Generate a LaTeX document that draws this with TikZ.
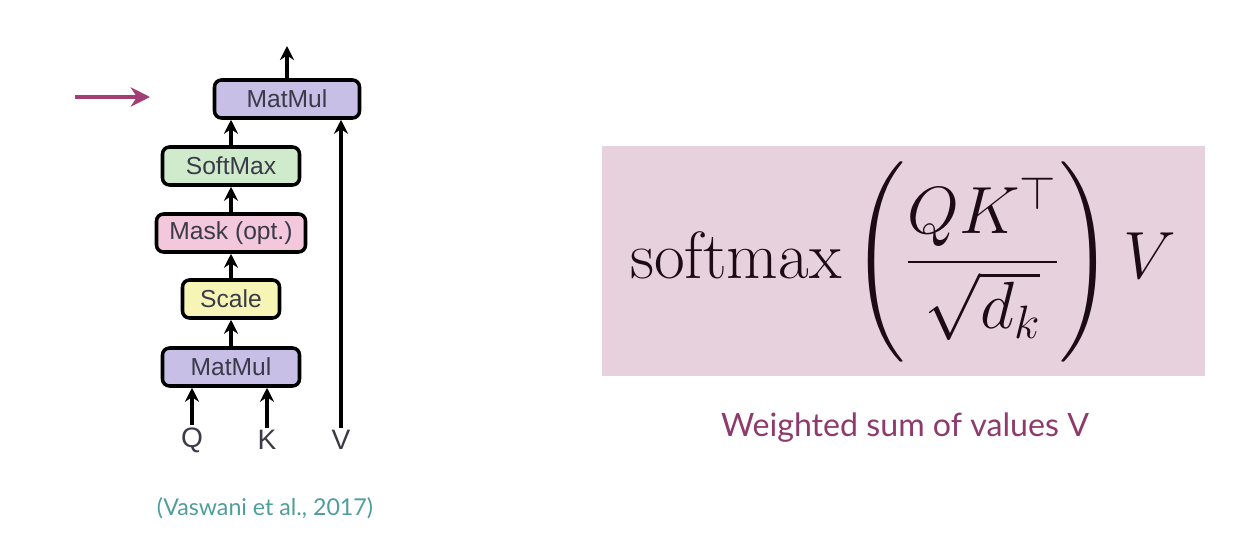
\RequirePackage{fix-cm}
\documentclass[tikz,border=0pt]{standalone}
\usepackage{fontspec}
\setmainfont{Latin Modern Roman}
\newfontfamily\boxfont{Liberation Sans}
\newfontfamily\capfont{Lato}
\usepackage{amsmath}
\usepackage{amssymb}
\usetikzlibrary{calc}
\usetikzlibrary{arrows.meta}
\definecolor{mmcol}{HTML}{C7BFE6}
\definecolor{smcol}{HTML}{CFEBCC}
\definecolor{mkcol}{HTML}{F3C8DC}
\definecolor{sccol}{HTML}{F7F5B6}
\definecolor{pinkbg}{HTML}{E7D1DD}
\definecolor{plum}{HTML}{8E3A6C}
\definecolor{ptr}{HTML}{A33E74}
\definecolor{teal}{HTML}{4E9E9C}
\definecolor{txt}{HTML}{3A3A48}
\tikzset{
  opbox/.style={draw=black, line width=2pt, rounded corners=4pt, minimum height=0.76cm,
    inner sep=0pt, font=\boxfont\fontsize{14}{16}\selectfont, text=txt},
  flow/.style={black, line width=2pt, -{Stealth[length=8pt,width=8pt]}},
  inlbl/.style={font=\boxfont\fontsize{16}{18}\selectfont, text=txt, inner sep=1pt}
}

\begin{document}
\begin{tikzpicture}
\useasboundingbox (0,0) rectangle (25,10.76);
\node[opbox, fill=mmcol, minimum width=2.74cm] (mm1) at (4.62,3.42) {MatMul};
\node[opbox, fill=sccol, minimum width=1.94cm] (sc) at (4.62,4.78) {Scale};
\node[opbox, fill=mkcol, minimum width=2.98cm] (mk) at (4.62,6.10) {Mask (opt.)};
\node[opbox, fill=smcol, minimum width=2.74cm] (sm) at (4.62,7.44) {SoftMax};
\node[opbox, fill=mmcol, minimum width=2.90cm] (mm2) at (5.74,8.78) {MatMul};
\node[inlbl] (q) at (3.84,1.96) {Q};
\node[inlbl] (k) at (5.34,1.96) {K};
\node[inlbl] (v) at (6.82,1.96) {V};
\coordinate (out) at (5.74,9.84);
\draw[flow] (q) -- (q |- mm1.south);
\draw[flow] (k) -- (k |- mm1.south);
\draw[flow] (v) -- (v |- mm2.south);
\draw[flow] (mm1) -- (sc);
\draw[flow] (sc) -- (mk);
\draw[flow] (mk) -- (sm);
\draw[flow] (sm.north) -- (sm.north |- mm2.south);
\draw[flow] (mm2) -- (out);
% pointer
\coordinate (p0) at (1.5,8.82);
\coordinate (p1) at (3.0,8.82);
\draw[ptr, line width=2pt, -{Stealth[length=11pt,width=11pt]}] (p0) -- (p1);
\node[font=\capfont\fontsize{13.2}{15}\selectfont, text=teal] (cite) at (5.3,0.6) {(Vaswani et al., 2017)};
% formula
\node[fill=pinkbg, minimum width=12.06cm, minimum height=4.6cm] (eq) at (18.07,5.54) {};
\node[text=black!80!plum, inner sep=0pt] (form) at (18.06,5.52)
  {\fontsize{38}{44}\selectfont $\displaystyle \mathrm{softmax}\left(\frac{QK^{\top}}{\sqrt{d_k}}\right)V$};
\node[font=\capfont\fontsize{18.3}{22}\selectfont, text=plum] (cap) at (18.1,2.2) {Weighted sum of values V};
\end{tikzpicture}
\end{document}
